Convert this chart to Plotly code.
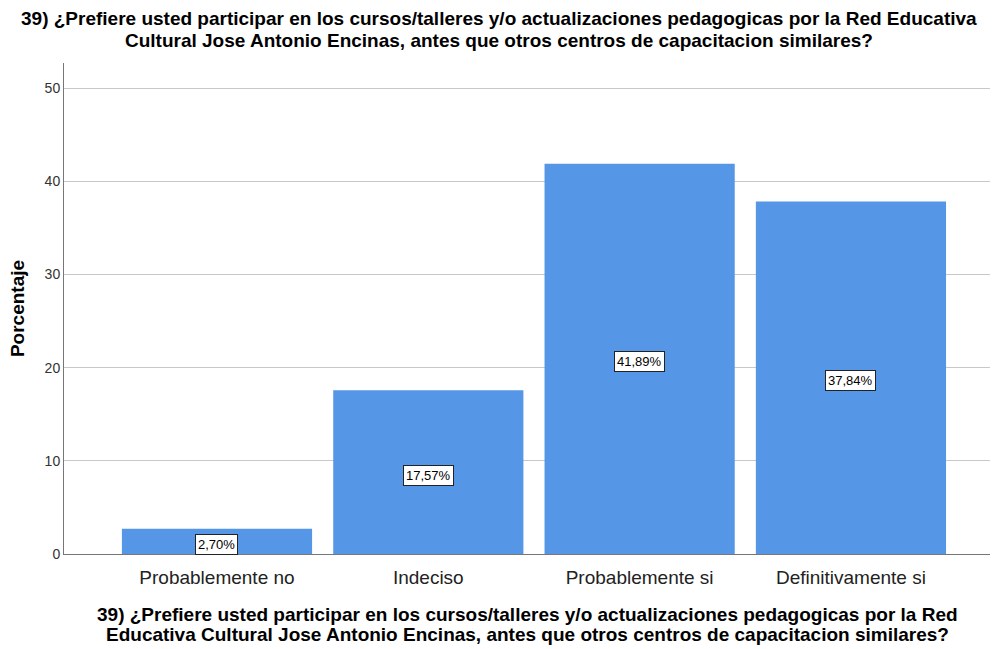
import plotly.graph_objects as go

categories = ["Probablemente no", "Indeciso", "Probablemente si", "Definitivamente si"]
values = [2.70, 17.57, 41.89, 37.84]
labels = ["2,70%", "17,57%", "41,89%", "37,84%"]
y_ticks = [0, 10, 20, 30, 40, 50]

title_lines = ["39) ¿Prefiere usted participar en los cursos/talleres y/o actualizaciones pedagogicas por la Red Educativa",
               "Cultural Jose Antonio Encinas, antes que otros centros de capacitacion similares?"]
xtitle_lines = ["39) ¿Prefiere usted participar en los cursos/talleres y/o actualizaciones pedagogicas por la Red",
                "Educativa Cultural Jose Antonio Encinas, antes que otros centros de capacitacion similares?"]

W, H = 996, 649
ML, MR, MT, MB = 64, 6, 63, 95
PH = H - MT - MB

def py(pix):
    # pixel row (from top) -> paper y coordinate
    return (H - MB - pix) / PH

xpos = list(range(len(categories)))

fig = go.Figure()
fig.add_trace(go.Bar(
    x=xpos, y=values, width=0.9,
    marker=dict(color="#5596E6", line=dict(width=0)),
    hoverinfo="skip",
))

for xi, v, lab in zip(xpos, values, labels):
    fig.add_annotation(
        x=xi, y=v / 2, text=lab, showarrow=False, yshift=-3,
        font=dict(family="Liberation Sans, Arial", size=13, color="#000"),
        bgcolor="white", bordercolor="#222", borderwidth=1, borderpad=2,
    )

for line, cy in zip(title_lines, [19, 40]):
    fig.add_annotation(
        xref="paper", yref="paper", x=(499 - ML) / (W - ML - MR), y=py(cy),
        xanchor="center", yanchor="middle", text="<b>" + line + "</b>", showarrow=False,
        font=dict(family="Liberation Sans, Arial", size=19, color="#000"),
    )

for line, cy in zip(xtitle_lines, [614, 634]):
    fig.add_annotation(
        xref="paper", yref="paper", x=0.5, y=py(cy),
        xanchor="center", yanchor="middle", text="<b>" + line + "</b>", showarrow=False,
        font=dict(family="Liberation Sans, Arial", size=19, color="#000"),
    )

fig.update_layout(
    width=W, height=H,
    paper_bgcolor="white", plot_bgcolor="white",
    margin=dict(l=ML, r=MR, t=MT, b=MB),
    showlegend=False,
    xaxis=dict(
        tickmode="array", tickvals=xpos, ticktext=categories,
        range=[-0.724, 3.658], automargin=False,
        showgrid=False, zeroline=False,
        showline=True, linecolor="#777", linewidth=1,
        ticks="", ticklabelstandoff=6,
        tickfont=dict(family="Liberation Sans, Arial", size=19, color="#222"),
    ),
    yaxis=dict(
        range=[0, 52.7], tickvals=y_ticks, automargin=False,
        showgrid=True, gridcolor="#c8c8c8", gridwidth=1,
        zeroline=False, showline=True, linecolor="#777", linewidth=1,
        ticks="", tickfont=dict(family="Liberation Sans, Arial", size=14, color="#333"),
        title=dict(text="<b>Porcentaje</b>", standoff=14,
                   font=dict(family="Liberation Sans, Arial", size=19, color="#000")),
    ),
)

fig.write_html("out.html", config={"displayModeBar": False},
               post_script="document.body.style.margin='0';")
